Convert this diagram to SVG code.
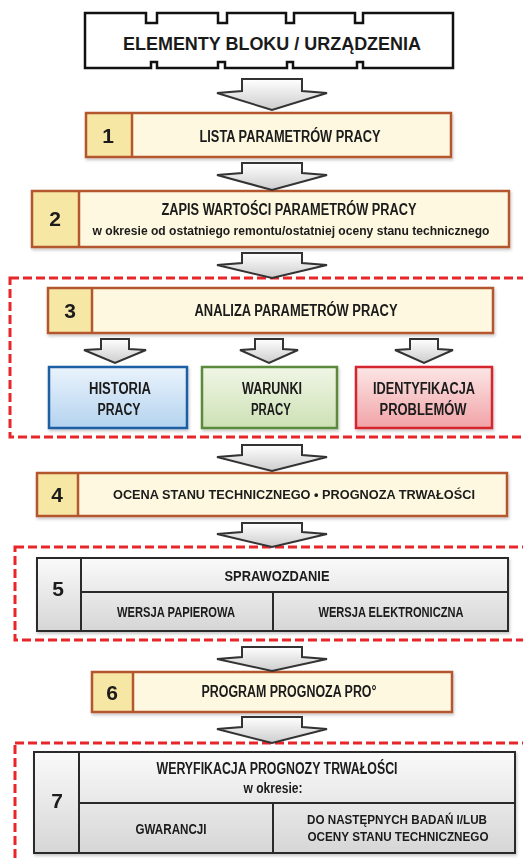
<svg xmlns="http://www.w3.org/2000/svg" width="523" height="862" viewBox="0 0 523 862">
<defs>
<linearGradient id="gArrow" x1="0" y1="0" x2="0" y2="1"><stop offset="0" stop-color="#ffffff"/><stop offset="1" stop-color="#cdcdcd"/></linearGradient>
<linearGradient id="gGray" x1="0" y1="0" x2="0" y2="1"><stop offset="0" stop-color="#fafafa"/><stop offset="1" stop-color="#d6d6d6"/></linearGradient>
<linearGradient id="gBlue" x1="0" y1="0" x2="0" y2="1"><stop offset="0" stop-color="#eaf3fc"/><stop offset="1" stop-color="#b4d3ef"/></linearGradient>
<linearGradient id="gGreen" x1="0" y1="0" x2="0" y2="1"><stop offset="0" stop-color="#f0f6e6"/><stop offset="1" stop-color="#cde1b5"/></linearGradient>
<linearGradient id="gRed" x1="0" y1="0" x2="0" y2="1"><stop offset="0" stop-color="#fce6e6"/><stop offset="1" stop-color="#f1a3a7"/></linearGradient>
<filter id="sh" x="-5%" y="-10%" width="110%" height="130%"><feDropShadow dx="1" dy="2" stdDeviation="1.5" flood-color="#000" flood-opacity="0.22"/></filter>
<style>
text{font-family:"Liberation Sans",Arial,sans-serif;font-weight:bold;fill:#1a1a1a;text-anchor:middle;}
.t16{font-size:16px;}
.t15{font-size:15px;}
.t14{font-size:14px;}
.t13{font-size:13px;}
.sub{font-size:13px;}
.num{font-size:21px;}
.yfill{fill:#fdf8df;}
.ycell{fill:#f7e7a5;}
.ystroke{fill:none;stroke:#b4562d;stroke-width:2.5;}
.gstroke{fill:none;stroke:#2b2b2b;stroke-width:2;}
.arrow{fill:url(#gArrow);stroke:#333;stroke-width:2;stroke-linejoin:miter;}
.dash{fill:none;stroke:#e8262a;stroke-width:3;stroke-dasharray:9 4;}
</style>
</defs>
<rect width="523" height="862" fill="#ffffff"/>

<g id="groups">
<rect class="dash" x="10" y="278" width="540" height="159"/>
<rect class="dash" x="15" y="547" width="540" height="93"/>
<rect class="dash" x="15" y="743" width="540" height="200"/>
</g>

<g id="top">
<path d="M85,13H146V23H157V13H218V23H227V13H286V23H294V13H355V23H363V13H453V68H363V62H357V68H293V62H287V68H225V62H218V68H157V62H151V68H85Z" fill="#fff" stroke="#111" stroke-width="2.5" stroke-linejoin="miter"/>
<text x="272" y="50" style="font-size:18px" textLength="298" lengthAdjust="spacingAndGlyphs">ELEMENTY BLOKU / URZĄDZENIA</text>
</g>

<g id="node1" filter="url(#sh)">
<rect class="yfill" x="86" y="113" width="365" height="44"/>
<rect class="ycell" x="86" y="113" width="46" height="44"/>
<rect class="ystroke" x="86" y="113" width="365" height="44"/>
<line class="ystroke" x1="132" y1="113" x2="132" y2="157"/>
<text class="num" x="108" y="143">1</text>
<text class="t16" x="290" y="142" textLength="181" lengthAdjust="spacingAndGlyphs">LISTA PARAMETRÓW PRACY</text>
</g>

<g id="node2" filter="url(#sh)">
<rect class="yfill" x="32" y="191" width="477" height="56"/>
<rect class="ycell" x="32" y="191" width="47" height="56"/>
<rect class="ystroke" x="32" y="191" width="477" height="56"/>
<line class="ystroke" x1="79" y1="191" x2="79" y2="247"/>
<text class="num" x="55" y="226">2</text>
<text class="t16" x="289" y="215" textLength="255" lengthAdjust="spacingAndGlyphs">ZAPIS WARTOŚCI PARAMETRÓW PRACY</text>
<text class="sub" x="291" y="235" textLength="397" lengthAdjust="spacingAndGlyphs">w okresie od ostatniego remontu/ostatniej oceny stanu technicznego</text>
</g>

<g id="node3" filter="url(#sh)">
<rect class="yfill" x="48" y="288" width="445" height="45"/>
<rect class="ycell" x="48" y="288" width="44" height="45"/>
<rect class="ystroke" x="48" y="288" width="445" height="45"/>
<line class="ystroke" x1="92" y1="288" x2="92" y2="333"/>
<text class="num" x="70" y="318">3</text>
<text class="t16" x="296" y="316" textLength="203" lengthAdjust="spacingAndGlyphs">ANALIZA PARAMETRÓW PRACY</text>
</g>

<g id="historia" filter="url(#sh)">
<rect x="49" y="367" width="138" height="61" fill="url(#gBlue)" stroke="#1d5fa3" stroke-width="2.5"/>
<text class="t16" x="120" y="394" textLength="62" lengthAdjust="spacingAndGlyphs">HISTORIA</text>
<text class="t16" x="119" y="415" textLength="43" lengthAdjust="spacingAndGlyphs">PRACY</text>
</g>

<g id="warunki" filter="url(#sh)">
<rect x="202" y="367" width="135" height="61" fill="url(#gGreen)" stroke="#5b8a3c" stroke-width="2.5"/>
<text class="t16" x="272" y="394" textLength="60" lengthAdjust="spacingAndGlyphs">WARUNKI</text>
<text class="t16" x="271" y="415" textLength="40" lengthAdjust="spacingAndGlyphs">PRACY</text>
</g>

<g id="identyfikacja" filter="url(#sh)">
<rect x="356" y="367" width="136" height="61" fill="url(#gRed)" stroke="#d3262d" stroke-width="2.5"/>
<text class="t16" x="424" y="394" textLength="102" lengthAdjust="spacingAndGlyphs">IDENTYFIKACJA</text>
<text class="t16" x="423" y="415" textLength="87" lengthAdjust="spacingAndGlyphs">PROBLEMÓW</text>
</g>

<g id="node4" filter="url(#sh)">
<rect class="yfill" x="37" y="473" width="470" height="43"/>
<rect class="ycell" x="37" y="473" width="41" height="43"/>
<rect class="ystroke" x="37" y="473" width="470" height="43"/>
<line class="ystroke" x1="78" y1="473" x2="78" y2="516"/>
<text class="num" x="57" y="502">4</text>
<text class="t13" x="294" y="499" textLength="362" lengthAdjust="spacingAndGlyphs">OCENA STANU TECHNICZNEGO • PROGNOZA TRWAŁOŚCI</text>
</g>

<g id="node5" filter="url(#sh)">
<rect x="37" y="558" width="471" height="73" fill="url(#gGray)"/>
<rect class="gstroke" x="37" y="558" width="471" height="73"/>
<line class="gstroke" x1="81" y1="558" x2="81" y2="631"/>
<line class="gstroke" x1="81" y1="592" x2="508" y2="592"/>
<line class="gstroke" x1="273" y1="592" x2="273" y2="631"/>
<text class="num" x="58" y="596">5</text>
<text class="t15" x="277" y="581" textLength="105" lengthAdjust="spacingAndGlyphs">SPRAWOZDANIE</text>
<text class="t15" x="176" y="617" textLength="118" lengthAdjust="spacingAndGlyphs">WERSJA PAPIEROWA</text>
<text class="t15" x="391" y="617" textLength="145" lengthAdjust="spacingAndGlyphs">WERSJA ELEKTRONICZNA</text>
</g>

<g id="node6" filter="url(#sh)">
<rect class="yfill" x="92" y="672" width="360" height="40"/>
<rect class="ycell" x="92" y="672" width="41" height="40"/>
<rect class="ystroke" x="92" y="672" width="360" height="40"/>
<line class="ystroke" x1="133" y1="672" x2="133" y2="712"/>
<text class="num" x="112" y="700">6</text>
<text class="t16" x="289" y="697" textLength="175" lengthAdjust="spacingAndGlyphs">PROGRAM PROGNOZA PRO°</text>
</g>

<g id="node7" filter="url(#sh)">
<rect x="34" y="752" width="481" height="101" fill="url(#gGray)"/>
<rect class="gstroke" x="34" y="752" width="481" height="101"/>
<line class="gstroke" x1="79" y1="752" x2="79" y2="853"/>
<line class="gstroke" x1="79" y1="803" x2="515" y2="803"/>
<line class="gstroke" x1="273" y1="803" x2="273" y2="853"/>
<text class="num" x="57" y="808">7</text>
<text class="t16" x="277" y="774" textLength="241" lengthAdjust="spacingAndGlyphs">WERYFIKACJA PROGNOZY TRWAŁOŚCI</text>
<text class="t14" x="273" y="793" textLength="59" lengthAdjust="spacingAndGlyphs">w okresie:</text>
<text class="t15" x="171" y="834" textLength="71" lengthAdjust="spacingAndGlyphs">GWARANCJI</text>
<text class="t13" x="397" y="824" textLength="180" lengthAdjust="spacingAndGlyphs">DO NASTĘPNYCH BADAŃ I/LUB</text>
<text class="t13" x="398" y="841" textLength="181" lengthAdjust="spacingAndGlyphs">OCENY STANU TECHNICZNEGO</text>
</g>

<g id="connectors">
<path class="arrow" d="M242,79H302V91L327,93L272,110L217,93L242,91Z"/>
<path class="arrow" d="M242,163H302V173L327,175L272,190L217,175L242,173Z"/>
<path class="arrow" d="M242,253H302V263L327,265L272,278L217,265L242,263Z"/>
<path class="arrow" d="M101,339H129V349L146,350L115,363L84,350L101,349Z"/>
<path class="arrow" d="M255,339H283V349L298,350L269,363L240,350L255,349Z"/>
<path class="arrow" d="M410,339H438V349L453,350L424,363L395,350L410,349Z"/>
<path class="arrow" d="M242,445H302V455L327,457L272,471L217,457L242,455Z"/>
<path class="arrow" d="M242,523H302V532L327,534L272,547L217,534L242,532Z"/>
<path class="arrow" d="M242,647H302V657L327,659L272,671L217,659L242,657Z"/>
<path class="arrow" d="M242,717H302V727L327,729L272,743L217,729L242,727Z"/>
</g>
</svg>
